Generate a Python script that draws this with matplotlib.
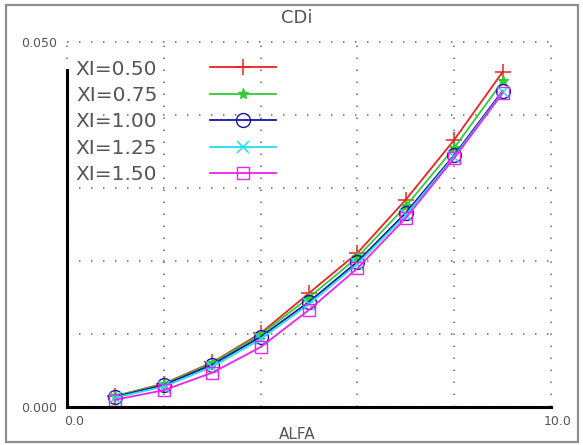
import matplotlib
matplotlib.use("Agg")
import matplotlib.pyplot as plt
import matplotlib.transforms as mtransforms
from matplotlib.patches import Rectangle

# data
ALFA = [1, 2, 3, 4, 5, 6, 7, 8, 9]
CDI_050 = [0.0015, 0.0032, 0.0061, 0.0101, 0.0156, 0.0211, 0.0284, 0.0366, 0.0459]
CDI_075 = [0.0015, 0.0031, 0.0060, 0.0099, 0.0150, 0.0205, 0.0275, 0.0355, 0.0446]
CDI_100 = [0.0014, 0.0030, 0.0058, 0.0096, 0.0144, 0.0199, 0.0266, 0.0345, 0.0433]
CDI_125 = [0.0013, 0.0028, 0.0055, 0.0093, 0.0141, 0.0196, 0.0263, 0.0343, 0.0431]
CDI_150 = [0.0010, 0.0023, 0.0047, 0.0082, 0.0133, 0.0190, 0.0259, 0.0341, 0.0430]
LABELS = ["XI=0.50", "XI=0.75", "XI=1.00", "XI=1.25", "XI=1.50"]

X_TICKS = [0, 2, 4, 6, 8, 10]
X_TICKLABELS = ["0.0", "", "", "", "", "10.0"]
Y_TICKS = [0.0, 0.01, 0.02, 0.03, 0.04, 0.05]
Y_TICKLABELS = ["0.000", "", "", "", "", "0.050"]

TEXT = "#555555"
GRID = "#888888"

styles = [
    dict(color="#ee2222", marker="+", ms=11, mew=1.1),
    dict(color="#33cc33", marker="*", ms=8, mew=1.0),
    dict(color="#1515a8", marker="o", ms=10, mew=1.0, mfc="none"),
    dict(color="#22ddee", marker="x", ms=8, mew=1.1),
    dict(color="#ee22ee", marker="s", ms=9, mew=1.0, mfc="none"),
]

fig = plt.figure(figsize=(5.83, 4.45), dpi=100)
fig.patch.set_facecolor("white")
ax = fig.add_axes([67 / 583, 38 / 445, 484 / 583, 365 / 445])

series = [CDI_050, CDI_075, CDI_100, CDI_125, CDI_150]
for vals, lab, st in zip(series, LABELS, styles):
    ax.plot(ALFA, vals, lw=1.3, label=lab, zorder=3, **st)

ax.set_xlim(0, 10)
ax.set_ylim(0, 0.05)
ax.set_xticks(X_TICKS)
ax.set_xticklabels(X_TICKLABELS)
ax.set_yticks(Y_TICKS)
ax.set_yticklabels(Y_TICKLABELS)
ax.tick_params(length=0, labelsize=9, labelcolor=TEXT)
ax.tick_params(axis="y", pad=7)
ax.tick_params(axis="x", pad=6)
offset = mtransforms.ScaledTranslation(5 / 72, 0, fig.dpi_scale_trans)
for lbl in ax.get_xticklabels():
    lbl.set_transform(lbl.get_transform() + offset)

ax.grid(True, color=GRID, lw=1.5, linestyle=(0, (0.7, 5.06)))
for gl in ax.get_xgridlines() + ax.get_ygridlines():
    gl.set_clip_on(False)

for s in ["top", "right"]:
    ax.spines[s].set_visible(False)
ax.spines["left"].set_linewidth(2.2)
ax.spines["bottom"].set_linewidth(2.2)
ax.spines["left"].set_bounds(0, 0.0462)
ax.spines["left"].set_zorder(4)
ax.spines["bottom"].set_zorder(4)

ax.set_title("CDi", fontsize=13, color=TEXT, pad=14, x=0.475)
ax.set_xlabel("ALFA", fontsize=11, color=TEXT, labelpad=-1, x=0.475)

leg = ax.legend(
    loc="upper left",
    bbox_to_anchor=(0.018, 0.952),
    frameon=False,
    markerfirst=False,
    fontsize=14.5,
    handlelength=3.3,
    handletextpad=2.6,
    labelspacing=0.37,
    borderpad=0,
    borderaxespad=0,
)
for t in leg.get_texts():
    t.set_color(TEXT)

fig.patches.append(
    Rectangle((6 / 583, 3 / 445), 572 / 583, 437 / 445, transform=fig.transFigure,
              fill=False, edgecolor="#8c8c8c", lw=1.6)
)

fig.savefig("out.png", dpi=100, facecolor="white")
